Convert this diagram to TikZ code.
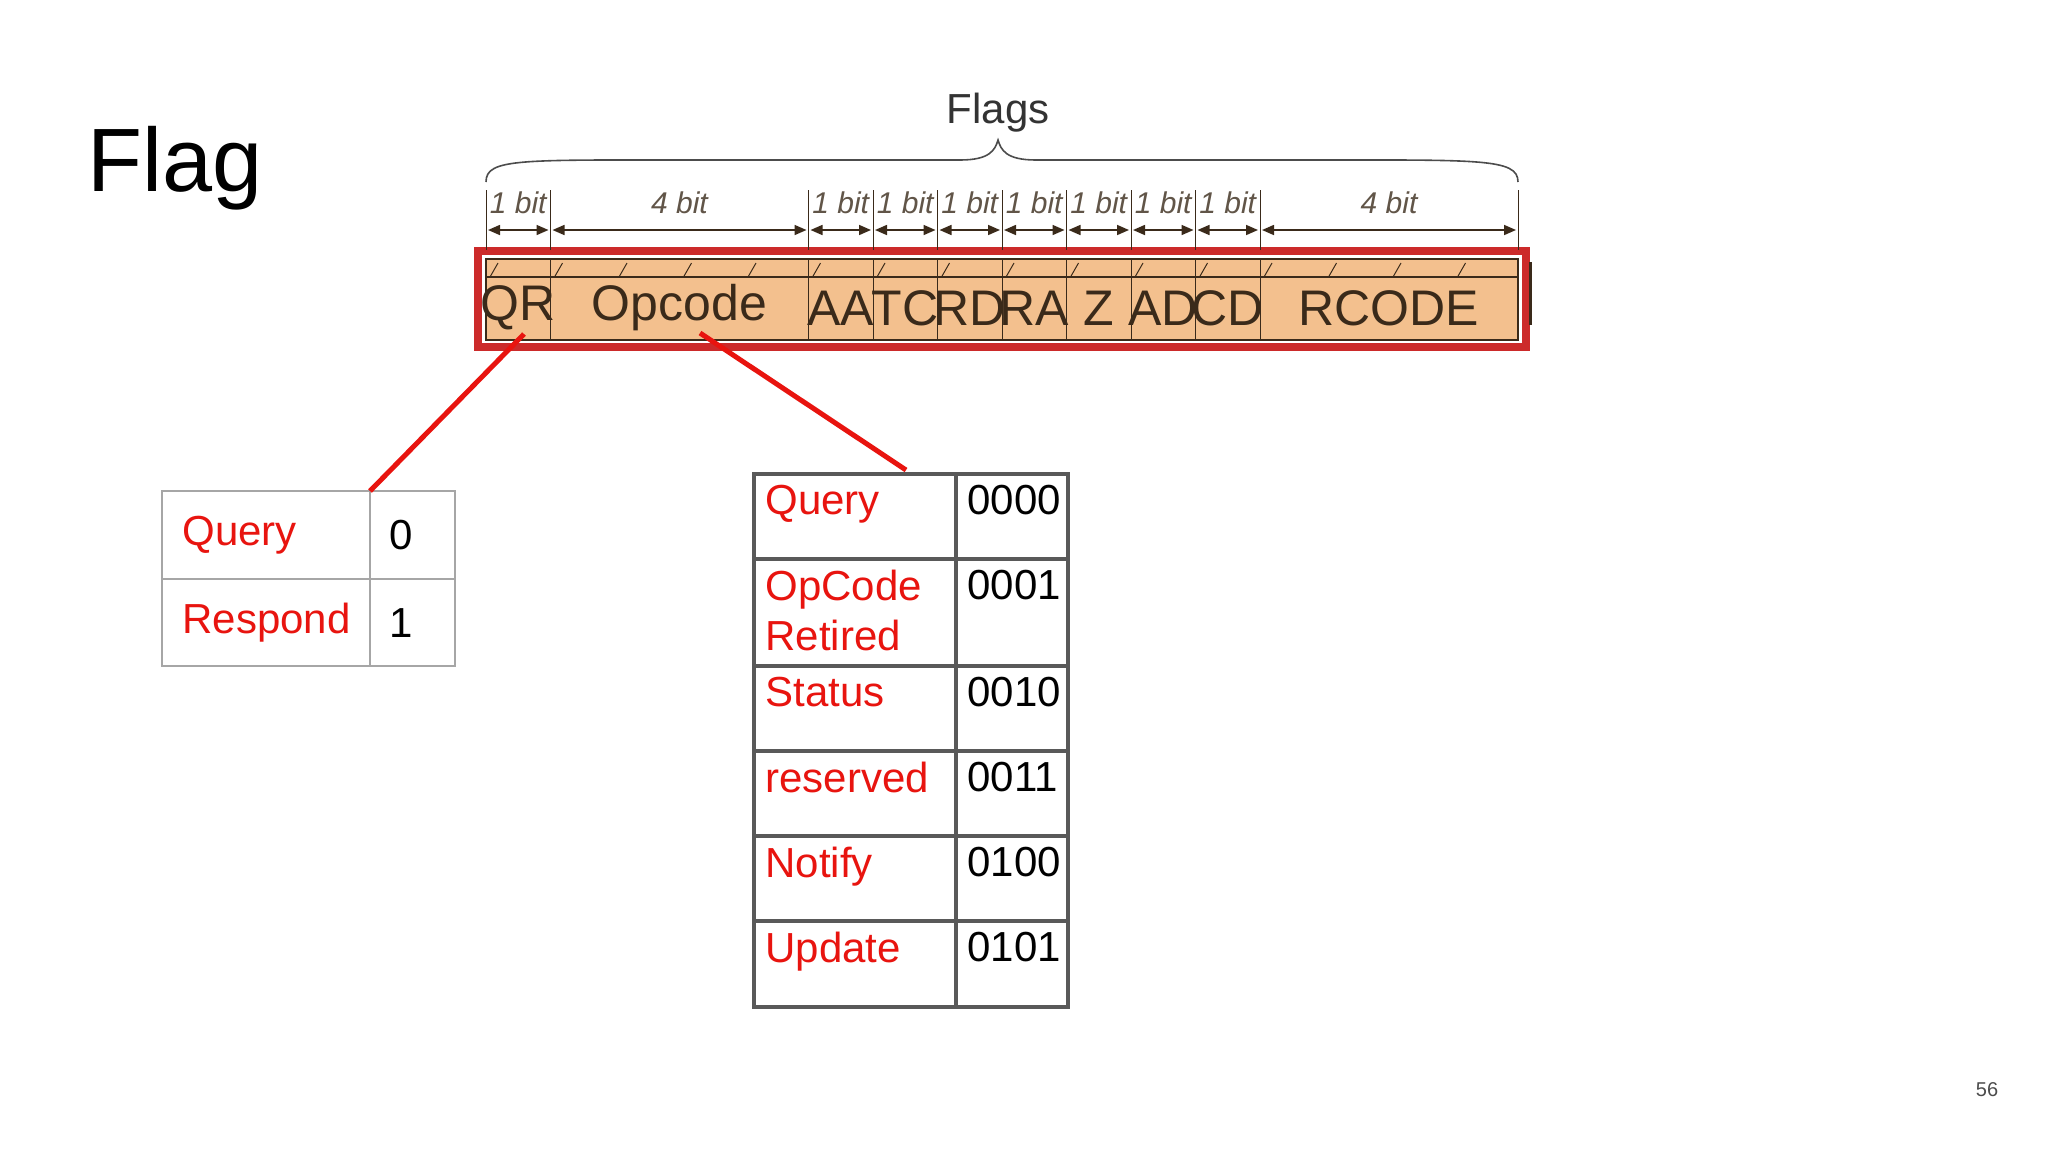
\documentclass[tikz,border=0pt]{standalone}
\usepackage{fontspec}
\setmainfont{Liberation Sans}
\usetikzlibrary{decorations.pathreplacing,arrows.meta}
\definecolor{fld}{HTML}{F3C08E}
\definecolor{frm}{HTML}{CC2A2A}
\definecolor{txtred}{HTML}{E8140F}
\definecolor{brn}{HTML}{3A2A1A}
\begin{document}
\begin{tikzpicture}[x=0.5pt,y=-0.5pt,
  fieldtxt/.style={font=\fontsize{25}{28}\selectfont,text=brn,inner sep=0pt},
  bittxt/.style={font=\itshape\fontsize{15}{17}\selectfont,text=brn!80,inner sep=0pt},
  celltxt/.style={font=\fontsize{21}{25}\selectfont,anchor=north west,inner sep=0pt,align=left},
  redline/.style={draw=txtred,line width=2.5pt}]
\useasboundingbox (0,0) rectangle (2048,1152);
\fill[white] (0,0) rectangle (2048,1152);
\node[font=\fontsize{45}{50}\selectfont,anchor=west] (title) at (80,168) {Flag};
\node[font=\fontsize{10}{12}\selectfont,text=black!70] (pg) at (1987,1090) {56};
% red frame
\draw[frm,line width=4pt] (478,251) rectangle (1526,347);
% bar
\fill[fld] (486,259) rectangle (1518,340);
\draw[brn,line width=0.6pt] (486,259) -- (1518,259);
\draw[brn,line width=0.6pt] (486,277) -- (1518,277);
\draw[brn,line width=0.8pt] (486,259) rectangle (1518,340);
\draw[brn,line width=1.5pt] (1530,262) -- (1530,325);
\foreach \k in {0,...,15}{
  \draw[brn,line width=0.5pt] ({486+64.5*\k+4},277) -- ({486+64.5*\k+12},263);
}
\foreach \b in {1,5,6,7,8,9,10,11,12}{
  \draw[brn,line width=0.5pt] ({486+64.5*\b},259) -- ({486+64.5*\b},340);
}
% field labels
\foreach \a/\b/\t/\n in {0/1/QR/qr,1/5/Opcode/op,5/6/AA/aa,6/7/TC/tc,7/8/RD/rd,8/9/RA/ra,9/10/Z/z,10/11/AD/ad,11/12/CD/cd,12/16/RCODE/rc}{
  \node[fieldtxt] (\n) at ({486+64.5*(\a+\b)/2},308) {\t};
  \node[bittxt] (b\n) at ({486+64.5*(\a+\b)/2},203) {\pgfmathparse{int(\b-\a)}\pgfmathresult\ bit};
  \coordinate (l\n) at ({486+64.5*\a+2},230);
  \coordinate (r\n) at ({486+64.5*\b-2},230);
  \draw[brn,line width=0.8pt,{Triangle[length=6pt,width=5pt]}-{Triangle[length=6pt,width=5pt]}] (l\n) -- (r\n);
}
\foreach \b in {0,1,5,6,7,8,9,10,11,12,16}{
  \draw[brn,line width=0.4pt] ({486+64.5*\b},190) -- ({486+64.5*\b},250);
}
% brace
\draw[black!70,line width=0.8pt] (486,182) .. controls (486,158) and (520,160) .. (700,160) -- (960,160) .. controls (990,160) and (995,150) .. (998,140) .. controls (1001,150) and (1006,160) .. (1036,160) -- (1300,160) .. controls (1480,160) and (1518,158) .. (1518,182);
\node[font=\fontsize{21}{25}\selectfont,text=black!80] (flags) at (998,113) {Flags};
% left table
\draw[black!35,line width=1pt] (162,491) rectangle (455,666);
\draw[black!35,line width=1pt] (162,579) -- (455,579);
\draw[black!35,line width=1pt] (370,491) -- (370,666);
\node[celltxt,text=txtred,anchor=west] (q) at (182,535) {Query};
\node[celltxt,anchor=west] (q0) at (389,535) {0};
\node[celltxt,text=txtred,anchor=west] (r) at (182,623) {Respond};
\node[celltxt,anchor=west] (r1) at (389,623) {1};
% right table
\draw[black!65,line width=2pt] (754,474) rectangle (1068,1007);
\draw[black!65,line width=2pt] (956,474) -- (956,1007);
\foreach \y in {559,666,751,836,921}{\draw[black!65,line width=2pt] (754,\y) -- (1068,\y);}
\foreach \y/\a/\b/\n in {474/Query/0000/t1,559/OpCode\\Retired/0001/t2,666/Status/0010/t3,751/reserved/0011/t4,836/Notify/0100/t5,921/Update/0101/t6}{
  \node[celltxt,text=txtred] (\n a) at (765,\y+11) {\a};
  \node[celltxt] (\n b) at (967,\y+11) {\b};
}
\coordinate (qrend) at (370,491);
\coordinate (opend) at (906,470);
\draw[redline] (524,334) -- (qrend);
\draw[redline] (700,333) -- (opend);
\end{tikzpicture}
\end{document}
